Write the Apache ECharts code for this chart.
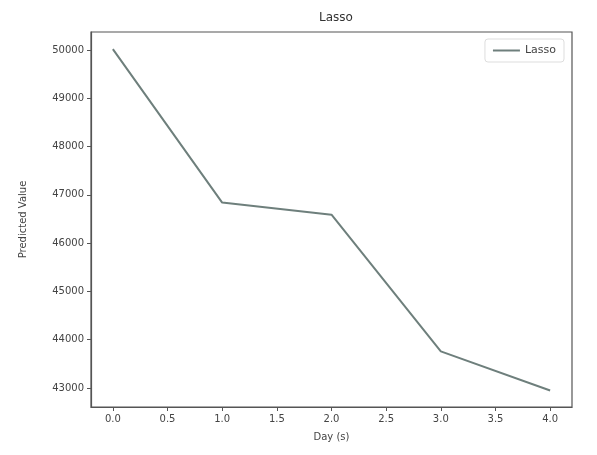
<!DOCTYPE html>
<html>
<head>
<meta charset="utf-8">
<script src="https://cdn.jsdelivr.net/npm/echarts@6/dist/echarts.min.js"></script>
<style>
html,body{margin:0;padding:0;background:#fff;}
#c{width:597px;height:455px;}
</style>
</head>
<body>
<div id="c"></div>
<script>
var days = [0, 1, 2, 3, 4];
var lassoValues = [50020, 46840, 46590, 43760, 42950];
var xTicks = [0, 0.5, 1, 1.5, 2, 2.5, 3, 3.5, 4];
var yTicks = [43000, 44000, 45000, 46000, 47000, 48000, 49000, 50000];

var chart = echarts.init(document.getElementById('c'));
var font = 'DejaVu Sans';
var axisCol = '#555';
chart.setOption({
  animation: false,
  backgroundColor: '#fff',
  title: {
    text: 'Lasso', left: 331, top: 7, textAlign: 'center',
    textStyle: {fontFamily: font, fontSize: 12, fontWeight: 'normal', color: '#333'}
  },
  legend: {
    right: 33, top: 39,
    itemWidth: 27, itemHeight: 2, itemGap: 10,
    icon: 'rect',
    borderColor: '#ddd', borderWidth: 1, borderRadius: 3,
    padding: [6, 8, 6, 8],
    textStyle: {fontFamily: font, fontSize: 11, color: '#444'},
    data: ['Lasso']
  },
  grid: {
    left: 91, right: 25, top: 32, bottom: 48,
    show: true, borderColor: axisCol, borderWidth: 1.2, backgroundColor: '#fff'
  },
  xAxis: {
    type: 'value', min: -0.2, max: 4.2,
    name: 'Day (s)', nameLocation: 'middle', nameGap: 25,
    nameTextStyle: {fontFamily: font, fontSize: 10, color: '#444'},
    axisLine: {show: true, onZero: false, lineStyle: {color: axisCol, width: 1.2}},
    axisTick: {show: true, length: 4, customValues: xTicks, lineStyle: {color: axisCol}},
    axisLabel: {
      customValues: xTicks, fontFamily: font, fontSize: 10, color: '#444', margin: 7,
      formatter: function (v) { return v.toFixed(1); }
    },
    splitLine: {show: false}
  },
  yAxis: {
    type: 'value', min: 42607, max: 50373,
    name: 'Predicted Value', nameLocation: 'middle', nameGap: 63, nameRotate: 90,
    nameTextStyle: {fontFamily: font, fontSize: 10, color: '#444'},
    axisLine: {show: true, onZero: false, lineStyle: {color: axisCol, width: 1.2}},
    axisTick: {show: true, length: 4, customValues: yTicks, lineStyle: {color: axisCol}},
    axisLabel: {
      customValues: yTicks, fontFamily: font, fontSize: 10, color: '#444', margin: 7,
      formatter: function (v) { return String(v); }
    },
    splitLine: {show: false}
  },
  series: [{
    name: 'Lasso', type: 'line',
    data: days.map(function (d, i) { return [d, lassoValues[i]]; }),
    showSymbol: false, symbol: 'none',
    lineStyle: {color: '#6e7f7c', width: 2},
    itemStyle: {color: '#6e7f7c'}
  }]
});
</script>
</body>
</html>
